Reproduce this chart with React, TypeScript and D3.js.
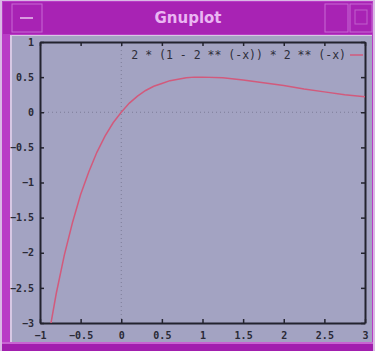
import { useEffect, useRef } from "react";
import * as d3 from "d3";

const xs = [-0.9, -0.8, -0.7, -0.6, -0.5, -0.4, -0.3, -0.2, -0.1, 0, 0.1, 0.2, 0.3, 0.4, 0.5, 0.6, 0.7, 0.8, 0.9, 1, 1.25, 1.5, 1.75, 2, 2.25, 2.5, 2.75, 3];
const ys = [-3.23, -2.58, -2.03, -1.57, -1.17, -0.85, -0.57, -0.34, -0.15, 0, 0.13, 0.23, 0.31, 0.37, 0.41, 0.45, 0.47, 0.49, 0.5, 0.5, 0.49, 0.46, 0.42, 0.38, 0.33, 0.29, 0.25, 0.22];

const xTicks = [-1, -0.5, 0, 0.5, 1, 1.5, 2, 2.5, 3];
const yTicks = [-3, -2.5, -2, -1.5, -1, -0.5, 0, 0.5, 1];
const legendLabel = "2 * (1 - 2 ** (-x)) * 2 ** (-x)";
const windowTitle = "Gnuplot";

const W = 375;
const H = 351;

export default function App() {
  const svgRef = useRef<SVGSVGElement>(null);

  useEffect(() => {
    if (!svgRef.current) return;
    const svg = d3.select(svgRef.current);
    svg.selectAll("*").remove();

    const frame = "#a823b4";
    const bg = "#a3a3c2";
    const ink = "#23232e";
    const curve = "#d25a7c";
    const mono = "'DejaVu Sans Mono', monospace";

    // window frame
    svg.append("rect").attr("width", W).attr("height", H).attr("fill", "#d9b8e4");
    svg.append("rect").attr("x", 2).attr("y", 1).attr("width", W - 4).attr("height", H - 1).attr("fill", "#b93cc6");
    svg.append("rect").attr("x", 3).attr("y", 2).attr("width", W - 6).attr("height", 32).attr("fill", frame);
    svg.append("rect").attr("x", 2).attr("y", 343).attr("width", W - 4).attr("height", 8).attr("fill", "#a21eae");
    svg.append("rect").attr("x", 2).attr("y", 342).attr("width", W - 4).attr("height", 2).attr("fill", "#c864d2");
    svg.append("rect").attr("x", 12).attr("y", 4).attr("width", 30).attr("height", 28)
      .attr("fill", "none").attr("stroke", "#c76ad4").attr("stroke-width", 1);
    svg.append("line").attr("x1", 20).attr("x2", 33).attr("y1", 18).attr("y2", 18)
      .attr("stroke", "#d99ae0").attr("stroke-width", 2);
    svg.append("rect").attr("x", 325).attr("y", 4).attr("width", 23).attr("height", 28)
      .attr("fill", "none").attr("stroke", "#c76ad4");
    svg.append("rect").attr("x", 350).attr("y", 4).attr("width", 22).attr("height", 28)
      .attr("fill", "none").attr("stroke", "#c76ad4");
    svg.append("rect").attr("x", 355).attr("y", 10).attr("width", 12).attr("height", 14)
      .attr("fill", "none").attr("stroke", "#c060cc");
    svg.append("text").attr("x", 188).attr("y", 23).attr("text-anchor", "middle")
      .attr("font-family", "'DejaVu Sans', sans-serif").attr("font-weight", "bold")
      .attr("font-size", 15).attr("fill", "#eab6f2").text(windowTitle);
    svg.append("rect").attr("x", 10).attr("y", 35).attr("width", W - 13).attr("height", 307)
      .attr("fill", "#d7c8e4");
    svg.append("rect").attr("x", 12).attr("y", 36).attr("width", W - 15).attr("height", 306)
      .attr("fill", bg);

    const margin = { left: 40, right: 10, top: 42, bottom: 28 };
    const x = d3.scaleLinear().domain([-1, 3]).range([margin.left, W - margin.right]);
    const y = d3.scaleLinear().domain([-3, 1]).range([H - margin.bottom, margin.top]);

    // zero axes
    svg.append("line").attr("x1", x(0)).attr("x2", x(0)).attr("y1", y(1)).attr("y2", y(-3))
      .attr("stroke", "#7d7d98").attr("stroke-dasharray", "1,3");
    svg.append("line").attr("x1", x(-1)).attr("x2", x(3)).attr("y1", y(0)).attr("y2", y(0))
      .attr("stroke", "#7d7d98").attr("stroke-dasharray", "1,3");

    const styleAxis = (g: d3.Selection<SVGGElement, unknown, null, undefined>) => {
      g.select(".domain").attr("stroke", ink).attr("stroke-width", 2);
      g.selectAll(".tick line").attr("stroke", ink).attr("stroke-width", 1.5);
      g.selectAll(".tick text").attr("fill", "#2a2a36").attr("font-family", mono)
        .attr("font-size", 10).attr("font-weight", "bold");
    };

    svg.append("g").attr("transform", `translate(0,${y(-3)})`)
      .call(d3.axisBottom(x).tickValues(xTicks).tickSizeInner(-4).tickSizeOuter(0).tickPadding(9).tickFormat(d3.format("")))
      .call(styleAxis);
    svg.append("g").attr("transform", `translate(0,${y(1)})`)
      .call(d3.axisTop(x).tickValues(xTicks).tickSizeInner(-4).tickSizeOuter(0).tickFormat(() => ""))
      .call(styleAxis);
    svg.append("g").attr("transform", `translate(${x(-1)},0)`)
      .call(d3.axisLeft(y).tickValues(yTicks).tickSizeInner(-4).tickSizeOuter(0).tickPadding(6).tickFormat(d3.format("")))
      .call(styleAxis);
    svg.append("g").attr("transform", `translate(${x(3)},0)`)
      .call(d3.axisRight(y).tickValues(yTicks).tickSizeInner(-4).tickSizeOuter(0).tickFormat(() => ""))
      .call(styleAxis);

    // curve
    svg.append("clipPath").attr("id", "plotclip").append("rect")
      .attr("x", x(-1)).attr("y", y(1)).attr("width", x(3) - x(-1)).attr("height", y(-3) - y(1));
    const pts = xs.map((v, i) => [v, ys[i]] as [number, number]);
    const line = d3.line<[number, number]>().x((d) => x(d[0])).y((d) => y(d[1]));
    svg.append("path").datum(pts).attr("clip-path", "url(#plotclip)")
      .attr("fill", "none").attr("stroke", curve).attr("stroke-width", 1.5).attr("d", line);

    // legend
    svg.append("text").attr("x", 346).attr("y", 59).attr("text-anchor", "end")
      .attr("font-family", mono).attr("font-size", 11.5).attr("fill", "#2e2e3a").text(legendLabel);
    svg.append("line").attr("x1", 350).attr("x2", 363).attr("y1", 55).attr("y2", 55)
      .attr("stroke", curve).attr("stroke-width", 1.5);
  }, []);

  return (
    <div style={{ position: "fixed", left: 0, top: 0 }}>
      <svg ref={svgRef} width={W} height={H} style={{ display: "block" }} />
    </div>
  );
}
